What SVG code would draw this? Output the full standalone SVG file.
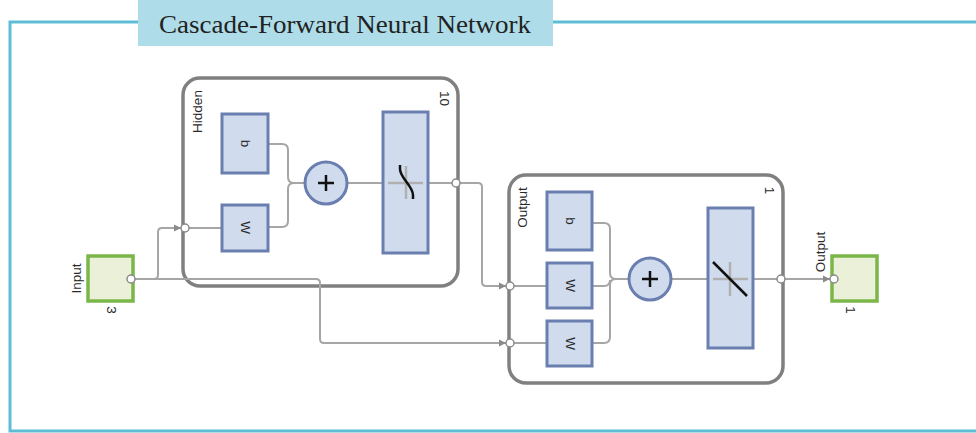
<svg xmlns="http://www.w3.org/2000/svg" width="976" height="433" viewBox="0 0 976 433">
<style>
.frame{fill:none;stroke:#5dbdd5;stroke-width:3}
.layer{fill:#fff;stroke:#808080;stroke-width:3.5}
.blk{fill:#d0dcee;stroke:#6a7eaf;stroke-width:3}
.io{fill:#ebf1d8;stroke:#7ab648;stroke-width:3.5}
.wire{fill:none;stroke:#a6a6a6;stroke-width:2}
.port{fill:#fff;stroke:#8a8a8a;stroke-width:1.5}
.lbl{font-family:"Liberation Sans",Arial,sans-serif;font-size:13.5px;fill:#2a2a2a}
.axis{stroke:#b0b0b0;stroke-width:2.5}
.fn{fill:none;stroke:#111;stroke-width:2.5}
.plus{stroke:#111;stroke-width:2.5}
</style>
<defs>
<marker id="arr" markerUnits="userSpaceOnUse" markerWidth="8" markerHeight="8" refX="7" refY="4" orient="auto">
<path d="M0,0.5 L7,4 L0,7.5 Z" fill="#8a8a8a"/>
</marker>
</defs>
<rect width="976" height="433" fill="#fff"/>
<g id="frame">
<path class="frame" d="M976,22 H10 V431 H976"/>
<rect x="138" y="0" width="415" height="46" fill="#aedde9"/>
<text x="345" y="33" text-anchor="middle" font-family="'Liberation Serif','Times New Roman',serif" font-size="25" fill="#222" textLength="372" lengthAdjust="spacingAndGlyphs">Cascade-Forward Neural Network</text>
</g>
<g id="hidden">
<rect class="layer" x="183" y="78" width="275" height="208" rx="17"/>
<text class="lbl" transform="translate(202,111.5) rotate(-90)" text-anchor="middle">Hidden</text>
<text class="lbl" transform="translate(440,98.5) rotate(90)" text-anchor="middle">10</text>
</g>
<g id="output-layer">
<rect class="layer" x="509" y="175" width="274" height="208" rx="17"/>
<text class="lbl" transform="translate(526.5,207.5) rotate(-90)" text-anchor="middle">Output</text>
<text class="lbl" transform="translate(765,190.5) rotate(90)" text-anchor="middle">1</text>
</g>
<g id="connectors">
<path class="wire" d="M131,279 H154 Q158,279 158,275 V232 Q158,228 162,228 H181" marker-end="url(#arr)"/>
<path class="wire" d="M131,279 H316 Q320,279 320,283 V339 Q320,343 324,343 H506" marker-end="url(#arr)"/>
<path class="wire" d="M456,183 H478 Q482,183 482,187 V282 Q482,286 486,286 H506" marker-end="url(#arr)"/>
<path class="wire" d="M781,279 H830" marker-end="url(#arr)"/>
<path class="wire" d="M185,228 H222"/>
<path class="wire" d="M268,144 H282 Q288,144 288,150 V177 Q288,183 294,183 H305"/>
<path class="wire" d="M268,227 H282 Q288,227 288,221 V189 Q288,183 294,183"/>
<path class="wire" d="M347,183 H383"/>
<path class="wire" d="M428,183 H456"/>
<path class="wire" d="M510,286 H547"/>
<path class="wire" d="M510,343 H547"/>
<path class="wire" d="M592,223 H604 Q610,223 610,229 V273 Q610,279 616,279 H629"/>
<path class="wire" d="M592,286 H604 Q610,286 610,280"/>
<path class="wire" d="M592,343 H604 Q610,343 610,337 V285 Q610,279 616,279"/>
<path class="wire" d="M671,279 H708"/>
<path class="wire" d="M753,279 H781"/>
</g>
<g id="hidden-b">
<rect class="blk" x="222" y="114" width="46" height="59"/>
<text class="lbl" transform="translate(241,143.5) rotate(90)" text-anchor="middle">b</text>
</g>
<g id="hidden-w">
<rect class="blk" x="222" y="205" width="46" height="46"/>
<text class="lbl" transform="translate(241,227.5) rotate(90)" text-anchor="middle">W</text>
</g>
<g id="hidden-sum">
<circle class="blk" cx="326" cy="183" r="21"/>
<path class="plus" d="M318,183 H334 M326,175 V191"/>
</g>
<g id="hidden-tansig">
<rect class="blk" x="383" y="112" width="45" height="141"/>
<path class="axis" d="M388,183 H423 M406,166 V199"/>
<path class="fn" d="M400,165 V169 C400,178 413,186 413,195 V199"/>
</g>
<g id="out-b">
<rect class="blk" x="547" y="192" width="45" height="58"/>
<text class="lbl" transform="translate(566,221) rotate(90)" text-anchor="middle">b</text>
</g>
<g id="out-w1">
<rect class="blk" x="547" y="263" width="45" height="45"/>
<text class="lbl" transform="translate(566,285.5) rotate(90)" text-anchor="middle">W</text>
</g>
<g id="out-w2">
<rect class="blk" x="547" y="321" width="45" height="45"/>
<text class="lbl" transform="translate(566,343.5) rotate(90)" text-anchor="middle">W</text>
</g>
<g id="out-sum">
<circle class="blk" cx="650" cy="279" r="21"/>
<path class="plus" d="M642,279 H658 M650,271 V287"/>
</g>
<g id="out-purelin">
<rect class="blk" x="708" y="208" width="45" height="140"/>
<path class="axis" d="M713,279 H748 M730,262 V296"/>
<path class="fn" d="M713,262 L747,296"/>
</g>
<g id="input">
<rect class="io" x="88" y="256" width="45" height="45"/>
<text class="lbl" transform="translate(81,278.5) rotate(-90)" text-anchor="middle">Input</text>
<text class="lbl" transform="translate(107,310) rotate(90)" text-anchor="middle">3</text>
</g>
<g id="output">
<rect class="io" x="832" y="256" width="45" height="45"/>
<text class="lbl" transform="translate(825,252) rotate(-90)" text-anchor="middle">Output</text>
<text class="lbl" transform="translate(846,310) rotate(90)" text-anchor="middle">1</text>
</g>
<g id="ports">
<circle class="port" cx="131" cy="279" r="4"/>
<circle class="port" cx="185" cy="228" r="4"/>
<circle class="port" cx="456" cy="183" r="4"/>
<circle class="port" cx="510" cy="286" r="4"/>
<circle class="port" cx="510" cy="343" r="4"/>
<circle class="port" cx="781" cy="279" r="4"/>
<circle class="port" cx="834" cy="279" r="4"/>
</g>
</svg>
